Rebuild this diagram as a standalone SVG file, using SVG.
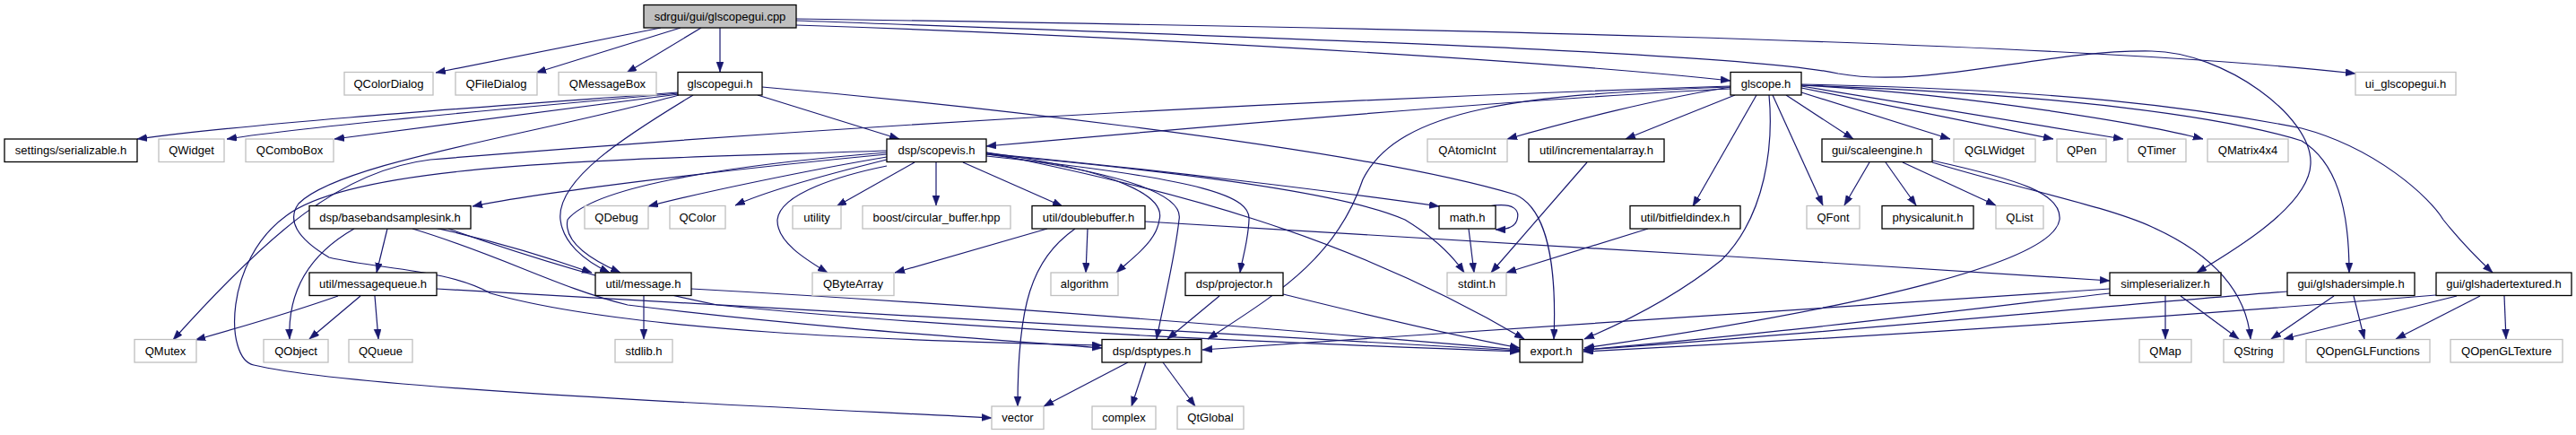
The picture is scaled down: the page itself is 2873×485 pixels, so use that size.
<svg xmlns="http://www.w3.org/2000/svg" width="2873" height="485" viewBox="0 0 2873 485">
<style>
rect{fill:#fff;stroke-width:1.3}
.k rect{stroke:#000}
.g rect{stroke:#bfbfbf}
.r rect{fill:#bfbfbf;stroke:#000}
text{font-family:"Liberation Sans",Arial,sans-serif;font-size:13px;text-anchor:middle;fill:#000}
.e path{fill:none;stroke:#191970;stroke-width:1.2;marker-end:url(#a)}
</style>
<defs>
<marker id="a" markerUnits="userSpaceOnUse" markerWidth="12" markerHeight="10" refX="11" refY="4" orient="auto">
<path d="M0,0 L11,4 L0,8 z" fill="#191970" stroke="#191970" stroke-width="0.5"/>
</marker>
</defs>
<rect x="0" y="0" width="2873" height="485" style="fill:#fff;stroke:none"/>
<g class="e" id="edges">
<path d="M737,31 L486,81"/>
<path d="M759,31 L598,81"/>
<path d="M782,31 L699,81"/>
<path d="M803,31 L803,80"/>
<path d="M888,28 C1200,38 1700,65 1930,90"/>
<path d="M888,21 C1500,30 2300,45 2627,82"/>
<path d="M888,23 C1500,45 1950,60 2050,82 C2150,100 2280,55 2400,57 C2480,58 2580,130 2577,183 C2575,230 2490,280 2450,304"/>
<path d="M757,103 C600,115 300,135 153,155"/>
<path d="M757,104 C600,118 350,140 253,155"/>
<path d="M757,105 C600,125 450,145 373,155"/>
<path d="M845,106 L1003,155"/>
<path d="M850,97 C1000,110 1500,160 1690,217 C1720,230 1737,280 1733,378"/>
<path d="M773,106 C700,150 620,200 625,245 C628,270 650,290 680,304"/>
<path d="M757,106 C600,150 380,180 333,227 C320,245 330,265 367,287 C420,300 500,300 547,327 C700,370 1000,380 1229,385"/>
<path d="M989,172 C800,190 600,215 527,230"/>
<path d="M989,175 C900,190 780,215 723,230"/>
<path d="M989,178 C920,195 850,215 820,229"/>
<path d="M1020,181 L933,230"/>
<path d="M1044,181 L1044,229"/>
<path d="M1074,181 L1185,230"/>
<path d="M989,185 C940,195 870,215 867,245 C866,270 900,290 923,304"/>
<path d="M989,170 C800,185 660,210 633,245 C628,270 660,290 692,304"/>
<path d="M989,168 C700,178 400,180 320,240 C250,290 250,400 283,407 C400,435 900,455 1106,466"/>
<path d="M1100,170 C1250,190 1300,220 1293,245 C1290,270 1260,290 1245,304"/>
<path d="M1100,172 C1270,195 1320,220 1315,245 C1310,290 1295,350 1290,378"/>
<path d="M1100,174 C1350,200 1395,220 1393,245 C1392,270 1385,290 1383,304"/>
<path d="M1100,171 C1300,190 1500,215 1605,230"/>
<path d="M1100,172 C1300,190 1500,215 1567,245 C1600,265 1620,285 1633,304"/>
<path d="M1100,170 C1300,210 1500,260 1700,378"/>
<path d="M1930,99 C1700,110 1300,145 1100,163"/>
<path d="M1930,96 C1500,110 1000,135 480,178 C380,190 300,260 193,379"/>
<path d="M1930,97 C1850,110 1750,135 1681,155"/>
<path d="M1935,106 C1900,120 1850,140 1813,155"/>
<path d="M1959,106 L1888,230"/>
<path d="M1930,97 C1700,105 1560,120 1520,200 C1490,290 1420,330 1347,378"/>
<path d="M1973,106 C1978,160 1970,240 1920,290 C1870,330 1810,360 1767,378"/>
<path d="M1977,106 L2033,229"/>
<path d="M1992,106 L2067,155"/>
<path d="M2009,103 L2175,155"/>
<path d="M2009,98 L2290,155"/>
<path d="M2009,96 L2368,155"/>
<path d="M2009,95 C2200,105 2400,140 2457,155"/>
<path d="M2009,94 C2300,100 2450,120 2567,143 C2650,165 2710,220 2725,245 C2745,270 2765,290 2780,304"/>
<path d="M2009,95 C2300,105 2480,130 2567,157 C2605,180 2620,230 2620,304"/>
<path d="M2085,181 L2057,229"/>
<path d="M2103,181 L2137,229"/>
<path d="M2122,181 L2226,229"/>
<path d="M2155,179 C2250,200 2300,215 2297,245 C2290,290 2100,340 1767,388"/>
<path d="M2155,181 C2250,210 2350,230 2400,253 C2460,280 2505,320 2510,378"/>
<path d="M2415,330 L2415,378"/>
<path d="M2432,330 L2497,378"/>
<path d="M2353,322 C2100,340 1700,365 1341,390"/>
<path d="M2353,327 C2150,350 1950,375 1766,390"/>
<path d="M2551,325 C2300,345 2000,375 1766,390"/>
<path d="M2603,330 L2533,378"/>
<path d="M2625,330 L2637,378"/>
<path d="M2717,329 C2400,355 2100,375 1766,392"/>
<path d="M2740,330 L2547,378"/>
<path d="M2766,330 L2672,378"/>
<path d="M2793,330 L2795,378"/>
<path d="M1770,181 L1663,304"/>
<path d="M1838,255 L1680,304"/>
<path d="M1660,230 C1690,225 1695,235 1692,245 C1690,253 1680,256 1668,256"/>
<path d="M1638,255 L1644,304"/>
<path d="M1168,255 L998,304"/>
<path d="M1213,255 L1211,304"/>
<path d="M1199,255 C1150,290 1135,340 1135,453"/>
<path d="M1277,247 C1600,265 2000,290 2353,313"/>
<path d="M1360,330 L1302,378"/>
<path d="M1431,328 C1500,345 1600,370 1695,388"/>
<path d="M1258,404 L1164,453"/>
<path d="M1278,404 L1262,453"/>
<path d="M1297,404 L1333,453"/>
<path d="M718,330 L718,378"/>
<path d="M771,322 C1100,340 1400,365 1695,390"/>
<path d="M432,255 L420,304"/>
<path d="M395,255 C360,275 320,310 323,378"/>
<path d="M480,253 C560,270 620,290 660,304"/>
<path d="M460,255 C560,285 620,320 700,340 C900,365 1100,378 1229,388"/>
<path d="M500,255 C600,290 700,320 800,340 C1100,370 1500,385 1695,392"/>
<path d="M377,330 C320,350 250,370 218,379"/>
<path d="M402,330 L345,378"/>
<path d="M418,330 L422,378"/>
<path d="M487,322 C900,345 1300,370 1695,391"/>
</g>
<g id="n0" class="r"><rect x="718" y="5.5" width="170" height="25.5"/><text x="803" y="22.5">sdrgui/gui/glscopegui.cpp</text></g>
<g id="n1" class="g"><rect x="384" y="80.5" width="99" height="25.5"/><text x="433.5" y="97.5">QColorDialog</text></g>
<g id="n2" class="g"><rect x="508" y="80.5" width="91" height="25.5"/><text x="553.5" y="97.5">QFileDialog</text></g>
<g id="n3" class="g"><rect x="623" y="80.5" width="109" height="25.5"/><text x="677.5" y="97.5">QMessageBox</text></g>
<g id="n4" class="k"><rect x="756" y="80.5" width="94" height="25.5"/><text x="803" y="97.5">glscopegui.h</text></g>
<g id="n5" class="k"><rect x="1930" y="80.5" width="79" height="25.5"/><text x="1969.5" y="97.5">glscope.h</text></g>
<g id="n6" class="g"><rect x="2627" y="80.5" width="112" height="25.5"/><text x="2683" y="97.5">ui_glscopegui.h</text></g>
<g id="n7" class="k"><rect x="5" y="155" width="148" height="25.5"/><text x="79" y="172">settings/serializable.h</text></g>
<g id="n8" class="g"><rect x="177" y="155" width="73" height="25.5"/><text x="213.5" y="172">QWidget</text></g>
<g id="n9" class="g"><rect x="274" y="155" width="98" height="25.5"/><text x="323" y="172">QComboBox</text></g>
<g id="n10" class="k"><rect x="989" y="155" width="111" height="25.5"/><text x="1044.5" y="172">dsp/scopevis.h</text></g>
<g id="n11" class="g"><rect x="1592" y="155" width="89" height="25.5"/><text x="1636.5" y="172">QAtomicInt</text></g>
<g id="n12" class="k"><rect x="1705" y="155" width="151" height="25.5"/><text x="1780.5" y="172">util/incrementalarray.h</text></g>
<g id="n13" class="k"><rect x="2032" y="155" width="123" height="25.5"/><text x="2093.5" y="172">gui/scaleengine.h</text></g>
<g id="n14" class="g"><rect x="2179" y="155" width="91" height="25.5"/><text x="2224.5" y="172">QGLWidget</text></g>
<g id="n15" class="g"><rect x="2294" y="155" width="55" height="25.5"/><text x="2321.5" y="172">QPen</text></g>
<g id="n16" class="g"><rect x="2373" y="155" width="65" height="25.5"/><text x="2405.5" y="172">QTimer</text></g>
<g id="n17" class="g"><rect x="2462" y="155" width="90" height="25.5"/><text x="2507" y="172">QMatrix4x4</text></g>
<g id="n18" class="k"><rect x="345" y="229.5" width="180" height="25.5"/><text x="435" y="246.5">dsp/basebandsamplesink.h</text></g>
<g id="n19" class="g"><rect x="652" y="229.5" width="71" height="25.5"/><text x="687.5" y="246.5">QDebug</text></g>
<g id="n20" class="g"><rect x="747" y="229.5" width="62" height="25.5"/><text x="778" y="246.5">QColor</text></g>
<g id="n21" class="g"><rect x="884" y="229.5" width="54" height="25.5"/><text x="911" y="246.5">utility</text></g>
<g id="n22" class="g"><rect x="962" y="229.5" width="165" height="25.5"/><text x="1044.5" y="246.5">boost/circular_buffer.hpp</text></g>
<g id="n23" class="k"><rect x="1151" y="229.5" width="126" height="25.5"/><text x="1214" y="246.5">util/doublebuffer.h</text></g>
<g id="n24" class="k"><rect x="1605" y="229.5" width="63" height="25.5"/><text x="1636.5" y="246.5">math.h</text></g>
<g id="n25" class="k"><rect x="1818" y="229.5" width="123" height="25.5"/><text x="1879.5" y="246.5">util/bitfieldindex.h</text></g>
<g id="n26" class="g"><rect x="2015" y="229.5" width="59" height="25.5"/><text x="2044.5" y="246.5">QFont</text></g>
<g id="n27" class="k"><rect x="2099" y="229.5" width="102" height="25.5"/><text x="2150" y="246.5">physicalunit.h</text></g>
<g id="n28" class="g"><rect x="2226" y="229.5" width="53" height="25.5"/><text x="2252.5" y="246.5">QList</text></g>
<g id="n29" class="k"><rect x="345" y="304" width="142" height="25.5"/><text x="416" y="321">util/messagequeue.h</text></g>
<g id="n30" class="k"><rect x="664" y="304" width="107" height="25.5"/><text x="717.5" y="321">util/message.h</text></g>
<g id="n31" class="g"><rect x="906" y="304" width="91" height="25.5"/><text x="951.5" y="321">QByteArray</text></g>
<g id="n32" class="g"><rect x="1172" y="304" width="75" height="25.5"/><text x="1209.5" y="321">algorithm</text></g>
<g id="n33" class="k"><rect x="1322" y="304" width="109" height="25.5"/><text x="1376.5" y="321">dsp/projector.h</text></g>
<g id="n34" class="g"><rect x="1614" y="304" width="66" height="25.5"/><text x="1647" y="321">stdint.h</text></g>
<g id="n35" class="k"><rect x="2353" y="304" width="124" height="25.5"/><text x="2415" y="321">simpleserializer.h</text></g>
<g id="n36" class="k"><rect x="2551" y="304" width="142" height="25.5"/><text x="2622" y="321">gui/glshadersimple.h</text></g>
<g id="n37" class="k"><rect x="2717" y="304" width="151" height="25.5"/><text x="2792.5" y="321">gui/glshadertextured.h</text></g>
<g id="n38" class="g"><rect x="150" y="378.5" width="69" height="25.5"/><text x="184.5" y="395.5">QMutex</text></g>
<g id="n39" class="g"><rect x="294" y="378.5" width="72" height="25.5"/><text x="330" y="395.5">QObject</text></g>
<g id="n40" class="g"><rect x="389" y="378.5" width="71" height="25.5"/><text x="424.5" y="395.5">QQueue</text></g>
<g id="n41" class="g"><rect x="686" y="378.5" width="64" height="25.5"/><text x="718" y="395.5">stdlib.h</text></g>
<g id="n42" class="k"><rect x="1229" y="378.5" width="111" height="25.5"/><text x="1284.5" y="395.5">dsp/dsptypes.h</text></g>
<g id="n43" class="k"><rect x="1695" y="378.5" width="70" height="25.5"/><text x="1730" y="395.5">export.h</text></g>
<g id="n44" class="g"><rect x="2386" y="378.5" width="58" height="25.5"/><text x="2415" y="395.5">QMap</text></g>
<g id="n45" class="g"><rect x="2480" y="378.5" width="67" height="25.5"/><text x="2513.5" y="395.5">QString</text></g>
<g id="n46" class="g"><rect x="2572" y="378.5" width="138" height="25.5"/><text x="2641" y="395.5">QOpenGLFunctions</text></g>
<g id="n47" class="g"><rect x="2733" y="378.5" width="125" height="25.5"/><text x="2795.5" y="395.5">QOpenGLTexture</text></g>
<g id="n48" class="g"><rect x="1106" y="453" width="58" height="25.5"/><text x="1135" y="470">vector</text></g>
<g id="n49" class="g"><rect x="1218" y="453" width="71" height="25.5"/><text x="1253.5" y="470">complex</text></g>
<g id="n50" class="g"><rect x="1313" y="453" width="74" height="25.5"/><text x="1350" y="470">QtGlobal</text></g>
</svg>
